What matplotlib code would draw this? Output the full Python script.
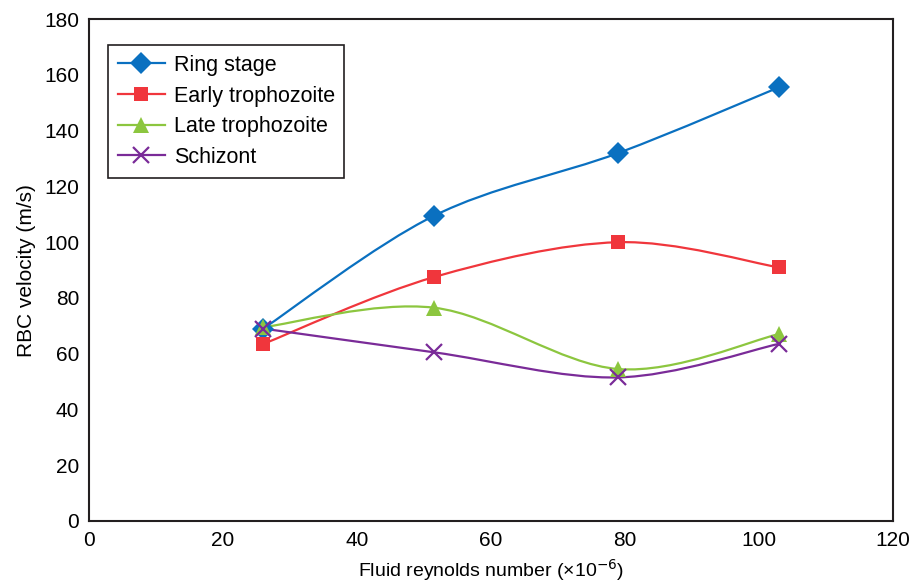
import numpy as np
import matplotlib.pyplot as plt
from matplotlib.path import Path
from matplotlib.patches import PathPatch
from matplotlib.lines import Line2D

plt.rcParams['font.family'] = ['Liberation Sans', 'DejaVu Sans']

# Dati
reynolds = [26, 51.5, 79, 102.9]
ring = [69, 109.5, 132, 155.5]
early = [63.5, 87.5, 100, 91]
late = [69.5, 76.5, 54.5, 67]
schizont = [69, 60.5, 51.5, 63.5]

series_names = ["Ring stage", "Early trophozoite", "Late trophozoite", "Schizont"]
series_vals = [ring, early, late, schizont]
colors = ["#0a70c0", "#f0363c", "#8cc63f", "#7a2b98"]
markers = ["D", "s", "^", "x"]
msizes = [11, 9.5, 12, 11]


def smooth_path(x, y, k=1/6):
    # curva tipo "linea smussata" di Excel (Bezier con tangenti Catmull-Rom)
    p = np.column_stack([x, y]).astype(float)
    n = len(p)
    verts = [p[0]]
    codes = [Path.MOVETO]
    for i in range(n - 1):
        p0 = p[i - 1] if i > 0 else p[i]
        p3 = p[i + 2] if i + 2 < n else p[i + 1]
        c1 = p[i] + (p[i + 1] - p0) * k
        c2 = p[i + 1] - (p3 - p[i]) * k
        verts += [c1, c2, p[i + 1]]
        codes += [Path.CURVE4] * 3
    return Path(verts, codes)


fig = plt.figure(figsize=(9.16, 5.81), dpi=100)
ax = fig.add_axes([0.0972, 0.1033, 0.8778, 0.8637])

handles = []
for name, vals, c, m, ms in zip(series_names, series_vals, colors, markers, msizes):
    ax.add_patch(PathPatch(smooth_path(reynolds, vals), fc='none', ec=c, lw=1.6, zorder=2))
    mew = 1.6 if m == 'x' else 0
    ax.plot(reynolds, vals, ls='none', marker=m, ms=ms, color=c, mew=mew, zorder=3)
    handles.append(Line2D([], [], color=c, lw=1.6, marker=m, ms=ms, mew=mew, label=name))

ax.set_xlim(0, 120)
ax.set_ylim(0, 180)
ax.set_xticks(np.arange(0, 121, 20))
ax.set_yticks(np.arange(0, 181, 20))
ax.tick_params(length=0, labelsize=15, pad=7)
for s in ax.spines.values():
    s.set_linewidth(1.5)
    s.set_color('#231f20')

ax.set_xlabel("Fluid reynolds number (\u00d710$^{\u22126}$)", fontsize=14, labelpad=5)
ax.set_ylabel("RBC velocity (m/s)", fontsize=15, labelpad=6)

leg = ax.legend(handles=handles, loc='upper left', bbox_to_anchor=(0.0236, 0.948),
                borderaxespad=0, fontsize=15.5, handlelength=2.2, handletextpad=0.4,
                borderpad=0.45, labelspacing=0.45,
                fancybox=False, framealpha=1, edgecolor='#231f20')
leg.get_frame().set_linewidth(1.2)

fig.savefig("out.png", dpi=100)
